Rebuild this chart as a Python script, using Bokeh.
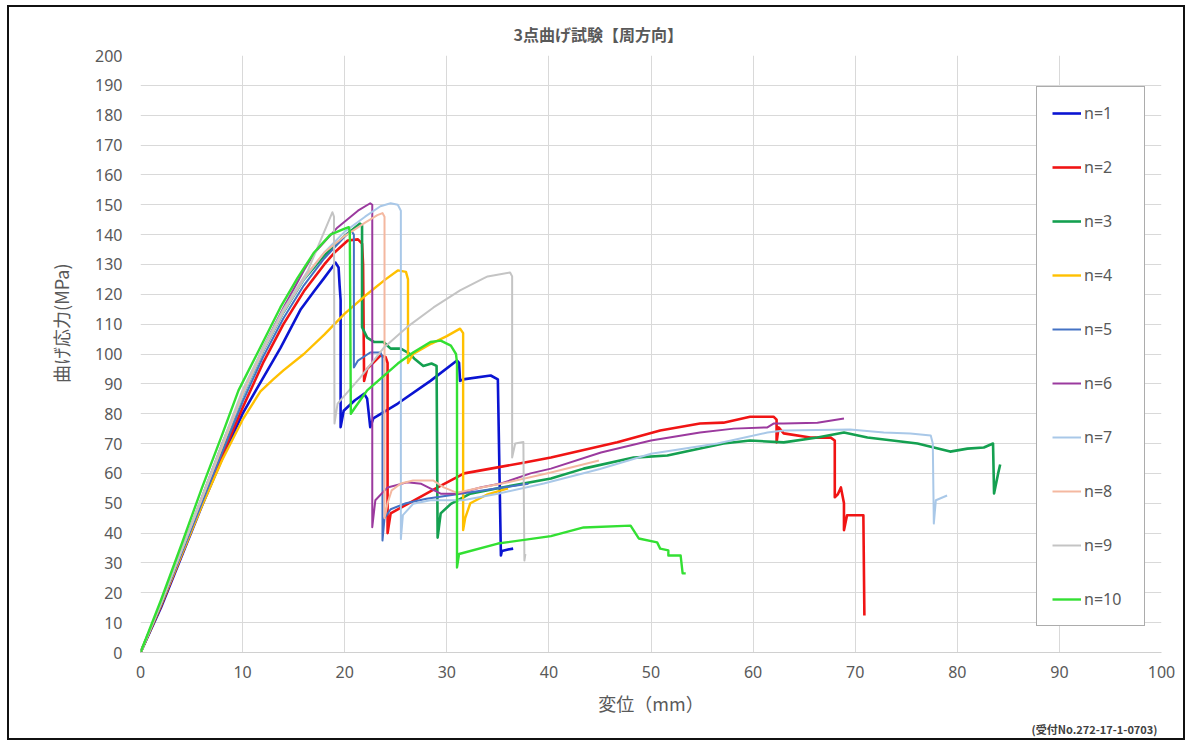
from bokeh.plotting import figure
from bokeh.models import Legend, LegendItem, FixedTicker, Title
from bokeh.embed import file_html
from bokeh.resources import INLINE

# ---------------- data ----------------
series_names = ["n=1", "n=2", "n=3", "n=4", "n=5", "n=6", "n=7", "n=8", "n=9", "n=10"]

n1_x = [0, 2, 4, 6, 8, 10, 11.3, 13.7, 15.7, 17, 18, 19.1, 19.4, 19.5, 19.6, 19.6, 19.9, 21, 21.9, 22.2, 22.5,
        22.8, 25.2, 28.4, 31, 31.2, 31.3, 31.6, 34.3, 35.0, 35.3, 35.4, 36, 36.5]
n1_y = [0, 15, 32, 49, 65, 80, 87.8, 102, 115, 121, 125.5, 130.6, 129, 123, 118, 75.5, 81, 84.5, 86.7, 85, 75.5,
        78.4, 83.4, 91, 97.8, 97, 91, 91.5, 92.8, 91.5, 32.5, 34, 34.5, 34.8]

n2_x = [0, 2, 4, 6, 8, 10, 12, 14, 16, 18, 19, 20.3, 21.3, 21.7, 21.8, 21.9, 22.2, 23.5, 24.0, 24.2, 24.2, 24.5,
        26.8, 29.1, 31.7, 34.3, 37.5, 40.2, 46.7, 50.9, 54.8, 57.1, 59.7, 62, 62.3, 62.3, 62.5, 63, 65.6, 67.6,
        68, 68, 68.3, 68.6, 68.9, 68.9, 69.2, 70.8, 70.9]
n2_y = [0, 15.5, 32.5, 49.5, 66, 82, 97, 110, 121, 130, 134, 138, 138.4, 137, 130, 91, 95, 99.5, 99, 97, 40, 46.6,
        51, 55.3, 60, 61.6, 63.6, 65.3, 70.4, 74.4, 76.7, 77, 79, 79, 78, 70.4, 75.4, 73.4, 72, 72,
        71, 52, 53, 55.3, 50, 41, 46, 46, 12.4]

n3_x = [0, 2, 4, 6, 8, 10, 12, 14, 16, 18, 20, 21.5, 21.7, 21.7, 22.2, 22.9, 23.8, 24.5, 25.5, 26.4, 26.8, 27.7,
        28.5, 29.0, 29.1, 29.4, 30.4, 32.3, 35, 40.2, 43.4, 48.3, 51.6, 57.1, 59.7, 63, 66.3, 68.9, 71.2, 76.1,
        77.7, 79.3, 81, 82.6, 83.5, 83.6, 84.0, 84.2]
n3_y = [0, 16, 33.5, 51, 68.5, 86, 101, 114, 125, 133, 139.5, 143.7, 143, 109, 105.5, 104, 104, 101.8, 101.8, 100,
        98.5, 96, 96.8, 96, 38.5, 46.6, 49.8, 53.2, 55, 58.3, 61.6, 65.3, 66, 70, 71, 70.4, 72, 73.7, 72, 70,
        68.7, 67.3, 68.3, 68.7, 70, 53.3, 60, 63]

n4_x = [0, 2, 4, 6, 8, 10, 11.75, 13, 14, 16, 18, 20, 22, 24, 25.2, 26.0, 26.2, 26.2, 26.7, 28.5, 30, 31.3,
        31.6, 31.6, 31.8, 32.3, 34, 36]
n4_y = [0, 16, 32.5, 49, 64.5, 78, 87.5, 91.5, 94.5, 100, 106.5, 113.5, 119.5, 125, 128, 127.5, 125, 97, 100, 103.5,
        106, 108.5, 107, 41, 45, 50, 53, 55]

n5_x = [0, 2, 4, 6, 8, 10, 12, 14, 16, 18, 19.5, 20.3, 20.7, 20.9, 20.9, 21.3, 22.5, 23.5, 23.7, 23.7, 23.9,
        24.5, 26, 28, 30, 33, 36, 38]
n5_y = [0, 16, 33, 50, 67, 84, 99, 112, 123, 132, 137.5, 140.5, 141, 140, 95.5, 97.8, 100.5, 100.5, 99, 37.5, 45,
        48, 50, 51.5, 52.5, 54, 55.5, 56.5]

n6_x = [0, 2, 4, 6, 8, 10, 12, 14, 16, 17, 19.3, 21.3, 22.5, 22.7, 22.7, 23, 24.2, 26.1, 27.5, 29.4, 31, 33.3,
        35.3, 38.2, 40.2, 45.1, 50, 54.8, 58.1, 61.4, 62, 63, 66.3, 68.9]
n6_y = [0, 16.5, 34, 52, 70, 87, 102, 115.5, 128, 133.7, 142.4, 148, 150.5, 150, 42, 51, 55.3, 57, 56.5, 53.2,
        53.2, 55.3, 56.6, 60, 61.6, 67, 71, 73.7, 75, 75.4, 76.7, 76.7, 77, 78.4]

n7_x = [0, 2, 4, 6, 8, 10, 12, 14, 16, 18, 20, 22, 23.5, 24.5, 25.2, 25.5, 25.5, 25.7, 26.7, 28.4, 31.6, 35,
        39.5, 45, 50, 56.5, 61.4, 63, 69.5, 72.8, 75.4, 77.4, 77.6, 77.7, 77.9, 79]
n7_y = [0, 16.5, 34, 51.5, 69, 86, 101, 114, 125, 134, 141, 146, 149.5, 150.5, 150, 148, 38, 46, 49.8, 51, 51, 53.2,
        56.6, 61.5, 66.6, 70, 73.7, 74.4, 74.7, 73.7, 73.4, 72.7, 70, 43.2, 51, 52.6]

n8_x = [0, 2, 4, 6, 8, 10, 12, 14, 16, 18, 20, 22, 23.2, 23.7, 23.9, 23.9, 24.2, 24.6, 25.5, 26.7, 28.7, 29.7,
        31, 33, 36, 40.2, 44.9]
n8_y = [0, 16.5, 34, 51.5, 69, 87, 101.5, 114.5, 125.5, 134, 139.5, 144, 146.5, 147.2, 146, 45, 50, 54.3, 56.6,
        57.6, 57.6, 55.3, 53.5, 55, 57, 60.3, 64.3]

n9_x = [0, 2, 4, 6, 8, 10, 12, 14, 16.4, 18.8, 18.95, 19.0, 19.3, 21.5, 23.8, 26.1, 28.7, 31.3, 33.6, 34, 36.2,
        36.4, 36.4, 36.7, 37.5, 37.6, 37.7]
n9_y = [0, 16.5, 34, 52, 70, 88, 102, 115, 128, 147.5, 146, 76.7, 83.4, 92, 102, 109, 115.6, 121.3, 125.3, 126,
        127.3, 126, 65.3, 70, 70.5, 30.8, 33]

n10_x = [0, 2, 4, 6, 8, 9.6, 12, 13.7, 15.4, 17, 18.6, 20, 20.4, 20.5, 20.6, 21, 22.2, 25.2, 26.7, 28.4, 29.4,
         30.4, 30.9, 31.0, 31.0, 31.2, 35, 40.2, 43.4, 48, 48.8, 50.6, 50.9, 51.7, 51.7, 52.9, 53.1, 53.4]
n10_y = [0, 17.5, 36, 55, 73, 87.8, 104, 115.6, 125.6, 134, 140, 142, 142.5, 141, 80, 82, 87.8, 96.8, 100.5, 104,
         104.5, 102.8, 100, 97, 28.5, 33, 36.5, 39, 41.9, 42.5, 38.2, 36.9, 34.8, 34.2, 32.5, 32.5, 26.5, 26.5]

series_x = [n1_x, n2_x, n3_x, n4_x, n5_x, n6_x, n7_x, n8_x, n9_x, n10_x]
series_y = [n1_y, n2_y, n3_y, n4_y, n5_y, n6_y, n7_y, n8_y, n9_y, n10_y]

x_ticks = list(range(0, 101, 10))
y_ticks = list(range(0, 201, 10))

title_text = "3点曲げ試験【周方向】"
x_title = "変位（mm）"
y_title = "曲げ応力(MPa)"
note_text = "(受付No.272-17-1-0703)"

# ---------------- styling ----------------
colors = ["#0A14D2", "#F01414", "#14A050", "#FFC000", "#4472C4",
          "#9B3A9E", "#A9C8E8", "#F4B8A0", "#C4C4C4", "#33E033"]
widths = [2.6, 2.6, 2.6, 2.4, 2.0, 2.0, 2.0, 2.0, 2.0, 2.4]

TXT = "#595959"
JP = "Noto Sans CJK JP"

p = figure(width=1178, height=735, x_range=(0, 100), y_range=(0, 200),
           output_backend="svg", toolbar_location=None,
           min_border_left=131, min_border_right=26, min_border_top=48, min_border_bottom=90)
p.styles = {"border": "2px solid #111111", "margin-left": "7px", "margin-top": "5px"}
p.outline_line_color = None
p.background_fill_color = "white"
p.border_fill_color = "white"

p.xaxis.ticker = FixedTicker(ticks=x_ticks)
p.yaxis.ticker = FixedTicker(ticks=y_ticks)
p.xgrid.ticker = FixedTicker(ticks=x_ticks)
p.ygrid.ticker = FixedTicker(ticks=y_ticks)
p.xgrid.grid_line_color = "#D9D9D9"
p.ygrid.grid_line_color = "#D9D9D9"

for ax in (p.xaxis, p.yaxis):
    ax.major_tick_line_color = None
    ax.minor_tick_line_color = None
    ax.major_tick_out = 0
    ax.major_tick_in = 0
    ax.major_label_text_font = "Noto Sans"
    ax.major_label_text_font_size = "16px"
    ax.major_label_text_color = TXT
p.yaxis.axis_line_color = None
p.xaxis.axis_line_color = "#D0D0D0"
p.yaxis.major_label_standoff = 18
p.xaxis.major_label_standoff = 13

p.xaxis.axis_label = x_title
p.xaxis.axis_label_text_font = JP
p.xaxis.axis_label_text_font_size = "18px"
p.xaxis.axis_label_text_font_style = "normal"
p.xaxis.axis_label_text_color = TXT
p.xaxis.axis_label_standoff = 9

renderers = []
for xs, ys, c, w in zip(series_x, series_y, colors, widths):
    r = p.line(xs, ys, line_color=c, line_width=w, line_join="round")
    renderers.append(r)

items = [LegendItem(label=n, renderers=[r]) for n, r in zip(series_names, renderers)]
legend = Legend(items=items, location=(896, 26), margin=0, padding=15, spacing=32,
                label_height=20, label_width=45, glyph_height=20, glyph_width=29, label_standoff=3,
                label_text_font="Noto Sans", label_text_font_size="16px", label_text_color=TXT,
                border_line_color="#595959", border_line_width=1.5, background_fill_alpha=1.0)
p.add_layout(legend)

# chart title (centered on the whole chart area, i.e. left of the plot-area centre)
p.title.text = title_text
p.title.align = "left"
p.title.offset = 373
p.title.text_font = JP
p.title.text_font_size = "16px"
p.title.text_font_style = "bold"
p.title.text_color = TXT
p.title.standoff = 20

# y axis title
p.add_layout(Title(text=y_title, align="right", offset=208, text_font=JP, text_font_size="18px",
                   text_font_style="normal", text_color=TXT, standoff=37), "left")

# receipt note
p.add_layout(Title(text=note_text, align="right", offset=4, text_font=JP,
                   text_font_size="11px", text_font_style="bold", text_color="#404040", standoff=0), "below")

open("out.html", "w").write(file_html(p, INLINE))
